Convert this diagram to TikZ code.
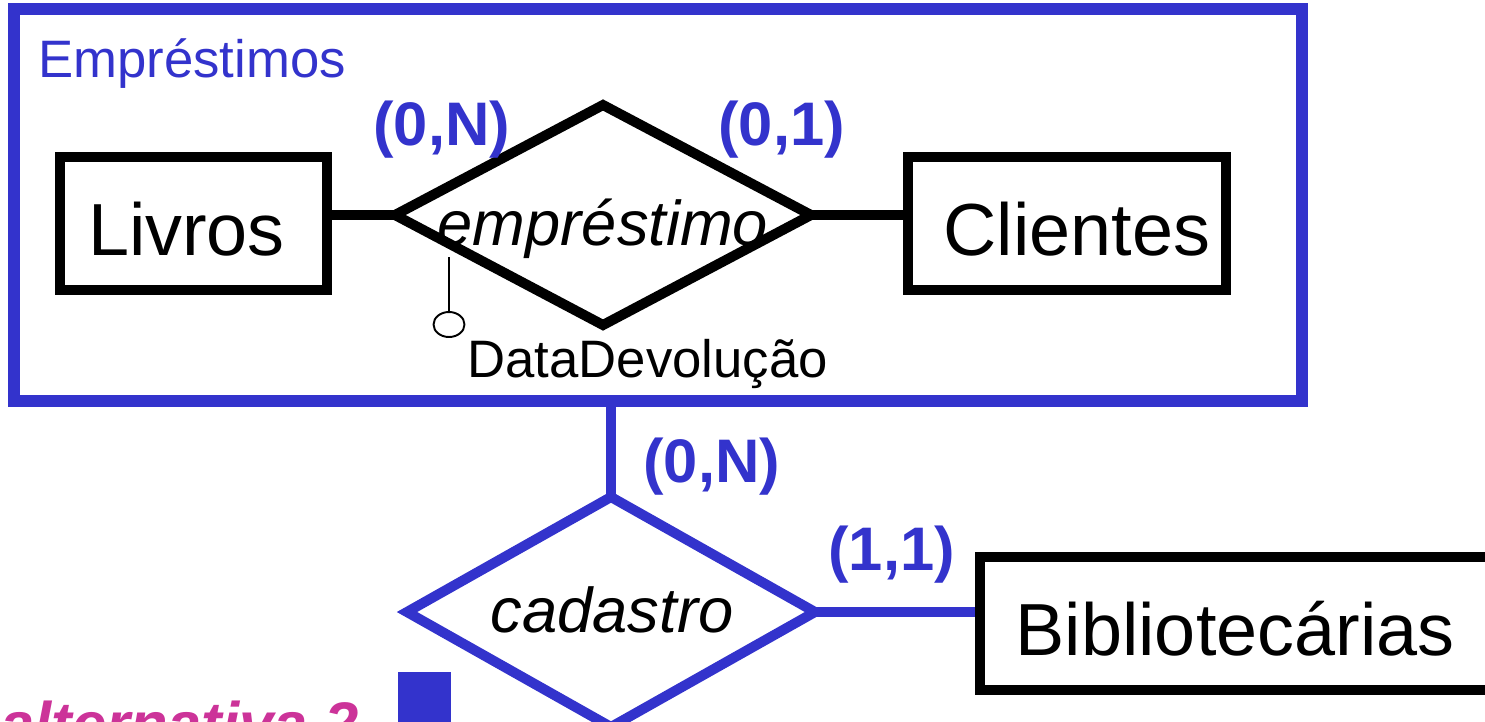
\documentclass[tikz,border=0pt]{standalone}
\usepackage{fontspec}
\setmainfont{Liberation Sans}
\usetikzlibrary{shapes.geometric}
\definecolor{erblue}{HTML}{3333CC}
\definecolor{ermagenta}{HTML}{CC3399}
\tikzset{
    entity/.style={draw, line width=5.7pt, minimum width=#1, minimum height=2.66cm, inner sep=0pt, text height=1.26cm, text depth=0pt, font=\fontsize{42}{48}\selectfont},
    card/.style={anchor=base west, inner sep=0pt, text=erblue, font=\bfseries\fontsize{35}{42}\selectfont},
    rel/.style={anchor=base, inner sep=0pt, font=\itshape\fontsize{36}{42}\selectfont},
}
\begin{document}
\begin{tikzpicture}[x=0.02cm, y=-0.02cm]
    \clip (0,0) rectangle (1485,721);

    % aggregation
    \node[draw=erblue, line width=6.8pt, minimum width=25.76cm, minimum height=7.84cm] (agg) at (658,205) {};
    \node[anchor=base west, inner sep=0pt, text=erblue, font=\fontsize{30}{36}\selectfont] (aggname) at (38,77) {Empréstimos};

    % entities
    \node[entity=5.34cm] (livros) at (193.5,223.5) {\hspace*{-0.28cm}Livros};
    \node[entity=6.37cm] (clientes) at (1067,223.5) {\hspace*{0.4cm}Clientes};
    \node[entity=10.2cm] (biblio) at (1235,623.5) {Bibliotecárias};

    % empréstimo
    \coordinate (e1) at (395,215); \coordinate (e2) at (603,105);
    \coordinate (e3) at (811,215); \coordinate (e4) at (603,325);
    \draw[line width=5.7pt, line join=miter] (e1)--(e2)--(e3)--(e4)--cycle;
    \node[rel] (emp) at (603,245) {empréstimo};
    \draw[line width=5.7pt] (livros.east |- e1) -- (e1);
    \draw[line width=5.7pt] (e3) -- (clientes.west |- e3);

    % attribute
    \coordinate (ddtop) at (449,257);
    \node[draw, ellipse, line width=1.1pt, minimum width=0.62cm, minimum height=0.5cm, inner sep=0pt] (dd) at (449,324.5) {};
    \draw[line width=1.1pt] (ddtop) -- (dd.north);
    \node[anchor=base west, inner sep=0pt, font=\fontsize{30}{36}\selectfont] (ddname) at (467,377) {DataDevolução};

    % cadastro
    \coordinate (c1) at (407,612); \coordinate (c2) at (611,497);
    \coordinate (c3) at (815,612); \coordinate (c4) at (611,727);
    \draw[erblue, line width=5.7pt, line join=miter] (c1)--(c2)--(c3)--(c4)--cycle;
    \node[rel] (cad) at (612,632) {cadastro};
    \draw[erblue, line width=5.7pt] (agg.south -| c2) -- (c2);
    \draw[erblue, line width=5.7pt] (c3) -- (biblio.west |- c3);

    % cardinalities
    \node[card] (k1) at (373,145) {(0,N)};
    \node[card] (k2) at (718,145) {(0,1)};
    \node[card] (k3) at (643,482) {(0,N)};
    \node[card] (k4) at (828,570) {(1,1)};

    \node[anchor=base west, inner sep=0pt, text=ermagenta, font=\bfseries\itshape\fontsize{35}{42}\selectfont] (alt) at (0,745) {alternativa 2};
    \fill[erblue] (398,672) rectangle (451,725);
\end{tikzpicture}
\end{document}
